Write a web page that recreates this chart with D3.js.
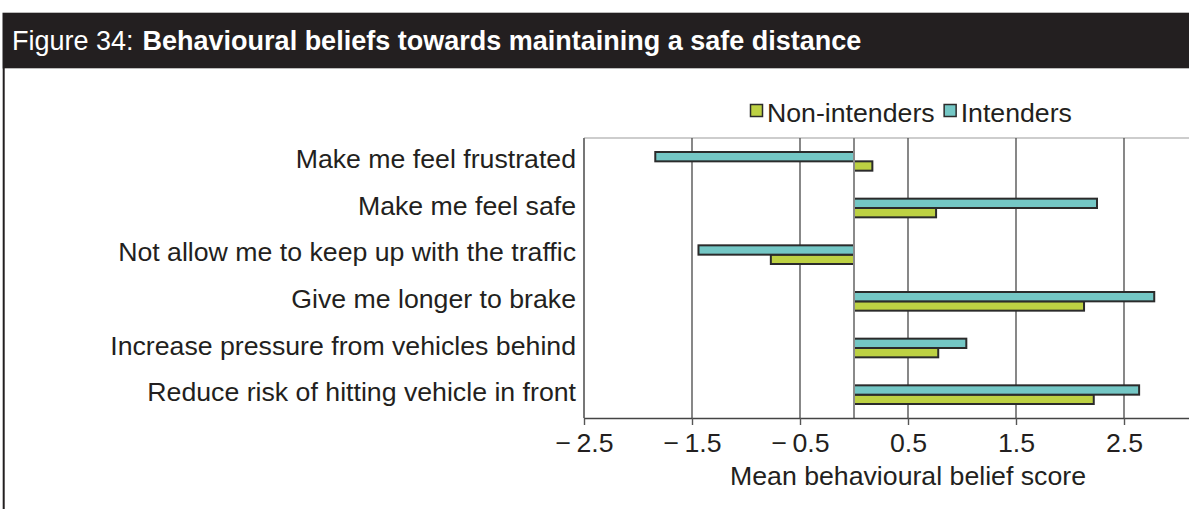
<!DOCTYPE html>
<html>
<head>
<meta charset="utf-8">
<script src="https://cdn.jsdelivr.net/npm/d3@7"></script>
<style>
  html, body { margin: 0; padding: 0; background: #fff; }
  svg { display: block; font-family: "Liberation Sans", Arial, Helvetica, sans-serif; }
</style>
</head>
<body>
<svg id="chart" width="1189" height="509"></svg>
<script>
// Behavioural belief items (top to bottom)
const categories = [
  "Make me feel frustrated",
  "Make me feel safe",
  "Not allow me to keep up with the traffic",
  "Give me longer to brake",
  "Increase pressure from vehicles behind",
  "Reduce risk of hitting vehicle in front"
];
const seriesNames = ["Non-intenders", "Intenders"];
// Mean behavioural belief scores
const nonIntenders = [0.17, 0.76, -0.77, 2.13, 0.78, 2.22];
const intenders    = [-1.84, 2.25, -1.44, 2.78, 1.04, 2.64];
const tickValues = [-2.5, -1.5, -0.5, 0.5, 1.5, 2.5];
const tickLabels = ["\u2212\u20092.5", "\u2212\u20091.5", "\u2212\u20090.5", "0.5", "1.5", "2.5"];

const colors = { "Non-intenders": "#bdd143", "Intenders": "#74c7c5" };

const W = 1189, H = 509;
const FS = "26.7px";
const svg = d3.select("#chart");

// Figure frame: title band and left rule
svg.append("rect").attr("x", 2.5).attr("y", 12.7).attr("width", W - 2.5).attr("height", 55.6)
  .attr("fill", "#231f20");
svg.append("line").attr("x1", 3.7).attr("x2", 3.7).attr("y1", 68).attr("y2", H)
  .attr("stroke", "#231f20").attr("stroke-width", 2);

const title = svg.append("text").attr("x", 12).attr("y", 50)
  .attr("fill", "#fff").style("font-size", "27px");
title.append("tspan").text("Figure 34:");
title.append("tspan").attr("font-weight", "bold").attr("dx", 9)
  .text("Behavioural beliefs towards maintaining a safe distance");

// Plot area
const plot = { left: 584, top: 138, bottom: 418 };
const x = d3.scaleLinear().domain([-2.5, 3.5]).range([plot.left, plot.left + 648]);
const y = d3.scaleBand().domain(categories).range([plot.top, plot.bottom])
  .paddingInner(0.6).paddingOuter(0.3);
const ySub = d3.scaleBand().domain(["Intenders", "Non-intenders"]).range([0, y.bandwidth()]);

const g = svg.append("g");

// top border
g.append("line").attr("x1", plot.left).attr("x2", W).attr("y1", plot.top).attr("y2", plot.top)
  .attr("stroke", "#bdbdbd").attr("stroke-width", 1.5);

// vertical gridlines
g.selectAll("line.grid").data(tickValues).join("line").attr("class", "grid")
  .attr("x1", d => x(d)).attr("x2", d => x(d))
  .attr("y1", plot.top).attr("y2", plot.bottom)
  .attr("stroke", (d, i) => i === 0 ? "#777" : "#555")
  .attr("stroke-width", (d, i) => i === 0 ? 2 : 1.4);

// bars
const rows = categories.map((c, i) => ({ cat: c, "Non-intenders": nonIntenders[i], "Intenders": intenders[i] }));
const barData = rows.flatMap(r => seriesNames.map(s => ({ cat: r.cat, series: s, value: r[s] })));

g.selectAll("rect.bar").data(barData).join("rect").attr("class", "bar")
  .attr("x", d => x(Math.min(0, d.value)))
  .attr("width", d => Math.abs(x(d.value) - x(0)))
  .attr("y", d => y(d.cat) + ySub(d.series))
  .attr("height", ySub.bandwidth())
  .attr("fill", d => colors[d.series])
  .attr("stroke", "#2b2b2b").attr("stroke-width", 2);

// zero baseline
g.append("line").attr("x1", x(0)).attr("x2", x(0)).attr("y1", plot.top).attr("y2", plot.bottom)
  .attr("stroke", "#8a8a8a").attr("stroke-width", 2);

// x axis
const xAxis = d3.axisBottom(x).tickValues(tickValues)
  .tickFormat((d, i) => tickLabels[i]).tickSize(7).tickSizeOuter(0);
const ax = svg.append("g").attr("transform", `translate(0,${plot.bottom})`).call(xAxis);
ax.select(".domain").attr("d", `M${plot.left},0.5H${W}`).attr("stroke", "#444").attr("stroke-width", 1.5);
ax.selectAll(".tick line").attr("stroke", "#555").attr("stroke-width", 1.4);
ax.selectAll(".tick text").attr("y", 0).attr("dy", null)
  .attr("transform", "translate(0,34)")
  .attr("fill", "#231f20").style("font-size", FS)
  .attr("font-family", "Liberation Sans, Arial, sans-serif");

svg.append("text").attr("x", x(0.5)).attr("y", 485).attr("text-anchor", "middle")
  .attr("fill", "#231f20").style("font-size", FS).text("Mean behavioural belief score");

// category labels
svg.selectAll("text.cat").data(categories).join("text").attr("class", "cat")
  .attr("x", plot.left - 8).attr("y", d => y(d) + y.bandwidth() / 2 + 6.5)
  .attr("text-anchor", "end").attr("fill", "#231f20").style("font-size", FS)
  .text(d => d);

// legend
const legend = svg.append("g").attr("transform", "translate(750,104)");
let lx = 0;
seriesNames.forEach(s => {
  const item = legend.append("g").attr("transform", `translate(${lx},0)`);
  item.append("rect").attr("x", 0.5).attr("y", 0.5).attr("width", 12).attr("height", 12)
    .attr("fill", colors[s]).attr("stroke", "#2b2b2b").attr("stroke-width", 1.5);
  const t = item.append("text").attr("x", 17).attr("y", 17.5).attr("fill", "#231f20")
    .style("font-size", FS).text(s);
  lx += 17 + t.node().getComputedTextLength() + 9;
});
</script>
</body>
</html>
